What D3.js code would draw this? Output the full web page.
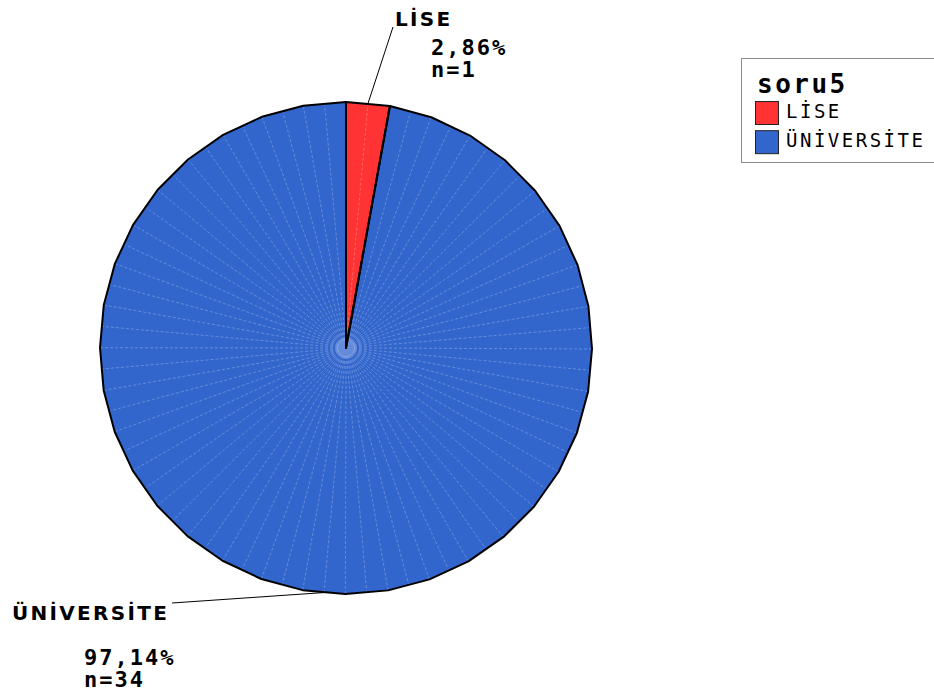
<!DOCTYPE html>
<html>
<head>
<meta charset="utf-8">
<script src="https://cdn.jsdelivr.net/npm/d3@7"></script>
<style>
html,body{margin:0;padding:0;background:#fff;}
svg{display:block;}
</style>
</head>
<body>
<svg id="chart" width="934" height="693"></svg>
<script>
const categories = ["LİSE", "ÜNİVERSİTE"];
const counts = [1, 34];
const colors = ["#ff3333", "#3366cc"];
const legendTitle = "soru5";

const W = 934, H = 693;
const cx = 346, cy = 348, R = 246;
const svg = d3.select("#chart");

const total = d3.sum(counts);
const data = categories.map((c, i) => ({cat: c, n: counts[i], color: colors[i]}));
const pie = d3.pie().value(d => d.n).sort(null);
const arcs = pie(data);

const rScale = d3.scaleLinear().domain([0, 1]).range([0, R]);
const pt = (a, r) => [cx + r * Math.sin(a), cy - r * Math.cos(a)];

const g = svg.append("g");
const subStep = 5 * Math.PI / 180;

arcs.forEach(a => {
  const span = a.endAngle - a.startAngle;
  const n = Math.max(2, Math.round(span / subStep));
  const step = span / n;
  const verts = [];
  for (let k = 0; k <= n; k += 2) verts.push(a.startAngle + k * step);
  if (verts[verts.length - 1] < a.endAngle - 1e-9) verts.push(a.endAngle);
  const pts = [[cx, cy]].concat(verts.map(v => pt(v, rScale(1))));
  g.append("path")
    .attr("d", "M" + pts.map(p => p.join(",")).join("L") + "Z")
    .attr("fill", a.data.color)
    .attr("stroke", "none");
  for (let k = 1; k < n; k++) {
    const ang = a.startAngle + k * step;
    const vi = Math.floor(k / 2) * 2;
    const a0 = a.startAngle + vi * step;
    const a1 = Math.min(a.startAngle + (vi + 2) * step, a.endAngle);
    let r = R;
    if (k % 2 === 1) {
      const mid = (a0 + a1) / 2;
      r = R * Math.cos((a1 - a0) / 2) / Math.cos(ang - mid);
    }
    const p = pt(ang, r - 1);
    const p0 = pt(ang, 8);
    g.append("line")
      .attr("x1", p0[0]).attr("y1", p0[1])
      .attr("x2", p[0]).attr("y2", p[1])
      .attr("stroke", "rgba(255,255,255,0.35)")
      .attr("stroke-width", 0.7)
      .attr("stroke-dasharray", "3,2");
  }
  a.verts = verts;
});

// soft bright centre
g.append("circle").attr("cx", cx).attr("cy", cy).attr("r", 9)
  .attr("fill", "rgba(160,185,235,0.45)");

arcs.forEach(a => {
  const pts = [[cx, cy]].concat(a.verts.map(v => pt(v, R)));
  g.append("path")
    .attr("d", "M" + pts.map(p => p.join(",")).join("L") + "Z")
    .attr("fill", "none")
    .attr("stroke", "#000")
    .attr("stroke-width", 2)
    .attr("stroke-linejoin", "round");
});

const fmtPct = v => (v * 100).toFixed(2).replace(".", ",") + "%";
const labelSpec = [
  {name: [395, 26], pct: [431, 55], n: [431, 77], lineEnd: [393, 27]},
  {name: [12, 620], pct: [84, 665], n: [84, 687], lineEnd: [172, 603]}
];
arcs.forEach((a, i) => {
  const s = labelSpec[i];
  const mid = (a.startAngle + a.endAngle) / 2;
  const ep = pt(mid, R * Math.cos(subStep) + 0.5);
  svg.append("line")
    .attr("x1", ep[0]).attr("y1", ep[1])
    .attr("x2", s.lineEnd[0]).attr("y2", s.lineEnd[1])
    .attr("stroke", "#000").attr("stroke-width", 1);
  svg.append("text")
    .attr("x", s.name[0]).attr("y", s.name[1])
    .attr("font-family", "DejaVu Sans")
    .attr("font-weight", "bold")
    .attr("font-size", 20)
    .attr("letter-spacing", 2.3)
    .text(a.data.cat);
  svg.append("text")
    .attr("x", s.pct[0]).attr("y", s.pct[1])
    .attr("font-family", "DejaVu Sans Mono")
    .attr("font-weight", "bold")
    .attr("font-size", 22)
    .attr("letter-spacing", 2.0)
    .text(fmtPct(a.data.n / total));
  svg.append("text")
    .attr("x", s.n[0]).attr("y", s.n[1])
    .attr("font-family", "DejaVu Sans Mono")
    .attr("font-weight", "bold")
    .attr("font-size", 22)
    .attr("letter-spacing", 2.0)
    .text("n=" + a.data.n);
});

const lg = svg.append("g");
lg.append("rect")
  .attr("x", 741.5).attr("y", 58.5)
  .attr("width", 220).attr("height", 104)
  .attr("fill", "#fff").attr("stroke", "#8c8c8c").attr("stroke-width", 1);
lg.append("text")
  .attr("x", 757).attr("y", 93)
  .attr("font-family", "DejaVu Sans Mono")
  .attr("font-weight", "bold")
  .attr("font-size", 26)
  .attr("letter-spacing", 2.5)
  .text(legendTitle);
const ly = d3.scaleBand().domain(categories).range([101, 155]).paddingInner(0.15);
categories.forEach((c, i) => {
  lg.append("rect")
    .attr("x", 755.5).attr("y", ly(c) + 0.5)
    .attr("width", 23).attr("height", 23)
    .attr("fill", colors[i]).attr("stroke", "#222").attr("stroke-width", 1);
  lg.append("text")
    .attr("x", 786).attr("y", ly(c) + 17)
    .attr("font-family", "DejaVu Sans Mono")
    .attr("font-size", 19)
    .attr("letter-spacing", 2.5)
    .text(c);
});
</script>
</body>
</html>
